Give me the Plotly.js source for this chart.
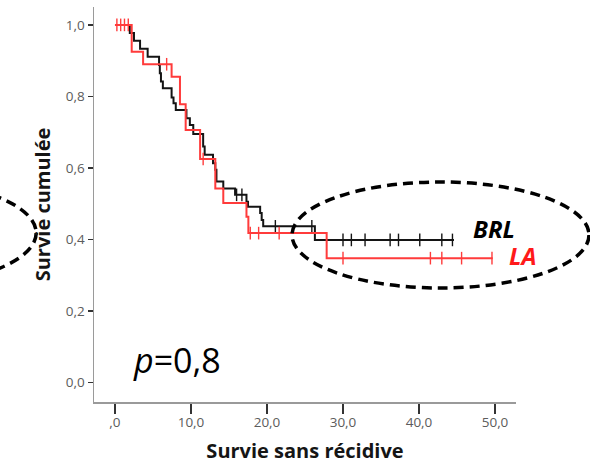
<!DOCTYPE html>
<html>
<head>
<meta charset="utf-8">
<script src="https://cdn.plot.ly/plotly-3.0.1.min.js"></script>
<style>html,body{margin:0;padding:0;background:#fff;}#chart{width:590px;height:464px;}</style>
</head>
<body>
<div id="chart"></div>
<script>
// BRL (black) Kaplan-Meier steps: event times and survival after each drop
const brlTimes = [1.95, 2.5, 3.3, 4.3, 5.8, 5.9, 6.05, 6.3, 7.45, 7.7, 8.0, 9.4, 9.85, 10.3, 11.6, 11.8, 12.9, 13.2, 13.35, 14.25, 15.8, 17.3, 17.5, 19.1, 19.3, 19.5, 26.3];
const brlSurv  = [0.977, 0.956, 0.933, 0.911, 0.888, 0.865, 0.842, 0.823, 0.797, 0.781, 0.762, 0.739, 0.72, 0.695, 0.66, 0.637, 0.613, 0.595, 0.562, 0.543, 0.525, 0.506, 0.492, 0.474, 0.455, 0.437, 0.399];
const brlEnd = 44.6;
const brlCensored = [16.0, 16.7, 21.1, 25.9, 30.0, 31.1, 32.9, 36.2, 37.3, 40.1, 43.0, 44.4];

// LA (red) Kaplan-Meier steps
const laTimes = [2.2, 3.7, 7.45, 8.55, 9.3, 11.2, 13.2, 14.25, 17.3, 17.55, 27.85];
const laSurv  = [0.925, 0.89, 0.855, 0.778, 0.706, 0.625, 0.543, 0.502, 0.464, 0.418, 0.348];
const laEnd = 49.7;
const laCensored = [0.25, 0.75, 1.25, 1.75, 6.8, 11.6, 17.8, 18.9, 21.6, 30.0, 41.5, 43.0, 45.6, 49.6];

const xTickVals = [0, 10, 20, 30, 40, 50];
const xTickText = [',0', '10,0', '20,0', '30,0', '40,0', '50,0'];
const yTickVals = [0, 0.2, 0.4, 0.6, 0.8, 1.0];
const yTickText = ['0,0', '0,2', '0,4', '0,6', '0,8', '1,0'];

function stepXY(times, surv, end) {
  return { x: [0].concat(times, [end]), y: [1].concat(surv, [surv[surv.length - 1]]) };
}
function survAt(times, surv, t) {
  let s = 1;
  for (let i = 0; i < times.length; i++) { if (times[i] <= t) s = surv[i]; }
  return s;
}

const brl = stepXY(brlTimes, brlSurv, brlEnd);
const la = stepXY(laTimes, laSurv, laEnd);
const black = '#141414', red = '#ff3b3b';

const traces = [
  { x: brl.x, y: brl.y, mode: 'lines', line: { shape: 'hv', color: black, width: 2 }, hoverinfo: 'skip' },
  { x: brlCensored, y: brlCensored.map(t => survAt(brlTimes, brlSurv, t)), mode: 'markers',
    marker: { symbol: 'line-ns-open', size: 9, color: black, line: { color: black, width: 1.4 } }, hoverinfo: 'skip' },
  { x: la.x, y: la.y, mode: 'lines', line: { shape: 'hv', color: red, width: 2 }, hoverinfo: 'skip' },
  { x: laCensored, y: laCensored.map(t => survAt(laTimes, laSurv, t)), mode: 'markers',
    marker: { symbol: 'line-ns-open', size: 9, color: red, line: { color: red, width: 1.4 } }, hoverinfo: 'skip' }
];

const tickFont = { family: 'Open Sans', size: 13.5, color: '#5c5c5c' };
const titleFont = { family: 'Open Sans', size: 20, color: '#151515' };

const layout = {
  width: 590, height: 464,
  margin: { l: 94, r: 74, t: 7, b: 62, pad: 0 },
  paper_bgcolor: '#fff', plot_bgcolor: '#fff',
  showlegend: false,
  xaxis: {
    range: [-2.76, 52.76], tickvals: xTickVals, ticktext: xTickText,
    ticks: 'outside', ticklen: 10, tickwidth: 1.5, tickcolor: '#333',
    ticklabelstandoff: -3,
    showline: true, linecolor: '#9a9a9a', linewidth: 1.5,
    showgrid: false, zeroline: false, tickfont: tickFont,
    title: { text: '<b>Survie sans récidive</b>', font: titleFont, standoff: 14 }
  },
  yaxis: {
    range: [-0.054, 1.05], tickvals: yTickVals, ticktext: yTickText,
    ticks: 'outside', ticklen: 5, tickwidth: 1.5, tickcolor: '#333',
    showline: true, linecolor: '#9a9a9a', linewidth: 1.5,
    showgrid: false, zeroline: false, tickfont: tickFont,
    title: { text: '<b>Survie cumulée</b>', font: titleFont, standoff: 10 }
  },
  shapes: [
    { type: 'circle', xref: 'paper', yref: 'paper', x0: 0.4692, x1: 1.173, y0: 0.2886, y1: 0.557,
      line: { color: '#000', width: 3.5, dash: '10px,6px' } },
    { type: 'circle', xref: 'paper', yref: 'paper', x0: -0.822, x1: -0.137, y0: 0.2937, y1: 0.562,
      line: { color: '#000', width: 3.5, dash: '10px,6px' } }
  ],
  annotations: [
    { text: '<i>p</i>=0,8', xref: 'paper', yref: 'paper', x: 0.0877, y: 0.106, xanchor: 'left', yanchor: 'middle',
      showarrow: false, font: { family: 'Open Sans', size: 34, color: '#000' } },
    { text: '<b><i>BRL</i></b>', xref: 'paper', yref: 'paper', x: 0.893, y: 0.438, xanchor: 'left', yanchor: 'middle',
      showarrow: false, font: { family: 'Open Sans', size: 24, color: '#000' } },
    { text: '<b><i>LA</i></b>', xref: 'paper', yref: 'paper', x: 0.979, y: 0.37, xanchor: 'left', yanchor: 'middle',
      showarrow: false, font: { family: 'Open Sans', size: 24, color: '#ff1a1a' } }
  ]
};

Plotly.newPlot('chart', traces, layout, { staticPlot: true, displayModeBar: false });
</script>
</body>
</html>
